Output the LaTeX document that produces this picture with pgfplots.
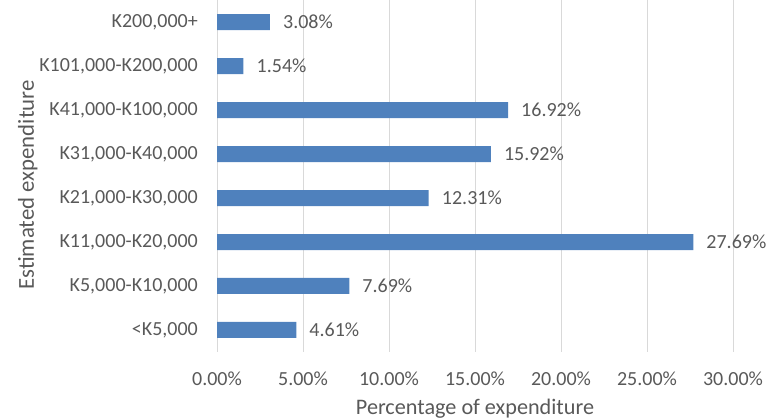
\documentclass[border=0pt]{standalone}
\usepackage{pgfplots}
\pgfplotsset{compat=1.18}
\usepackage{fontspec}
\setmainfont{Carlito}
\definecolor{barblue}{HTML}{4F81BD}
\definecolor{txt}{HTML}{595959}
\definecolor{gridc}{HTML}{D9D9D9}
\begin{document}
\begin{tikzpicture}[x=1pt,y=1pt]
\useasboundingbox (0,0) rectangle (766,420);
\begin{axis}[
  at={(217pt,68pt)}, anchor=south west,
  scale only axis, width=516pt, height=352pt,
  xbar, bar width=16pt,
  xmin=0, xmax=30, ymin=-0.5, ymax=7.5,
  xtick={0,5,...,30}, ytick={0,...,7},
  yticklabels={{<K5,000}, {K5,000-K10,000}, {K11,000-K20,000}, {K21,000-K30,000}, {K31,000-K40,000}, {K41,000-K100,000}, {K101,000-K200,000}, {K200,000+}},
  xticklabel={\pgfmathprintnumber[fixed,fixed zerofill,precision=2]{\tick}\%},
  /pgf/number format/assume math mode=true,
  xmajorgrids, major grid style={draw=gridc, line width=1pt},
  axis line style={draw=none},
  major tick length=0pt,
  tick label style={font=\fontsize{20}{23}\selectfont, text=txt},
  yticklabel style={inner sep=0pt, xshift=-19pt},
  xticklabel style={inner sep=0pt, anchor=base, yshift=-34pt},
  xlabel={Percentage of expenditure},
  ylabel={Estimated expenditure},
  label style={text=txt},
  xlabel style={font=\fontsize{22.2}{25}\selectfont, at={(axis description cs:0.5,0)}, anchor=base, yshift=-63pt},
  ylabel style={font=\fontsize{22.8}{26}\selectfont, at={(axis description cs:0,0.5)}, anchor=base, yshift=183pt, xshift=-9pt},
  nodes near coords={\pgfmathprintnumber[fixed,fixed zerofill,precision=2]{\pgfplotspointmeta}\%},
  nodes near coords style={anchor=west, inner sep=0pt, xshift=13pt, font=\fontsize{20}{23}\selectfont, text=txt},
  every node near coord/.append style={/pgf/number format/assume math mode=true},
]
\addplot[fill=barblue, draw=none] coordinates {
  (4.61,0) (7.69,1) (27.69,2) (12.31,3) (15.92,4) (16.92,5) (1.54,6) (3.08,7)
};
\end{axis}
\end{tikzpicture}
\end{document}
